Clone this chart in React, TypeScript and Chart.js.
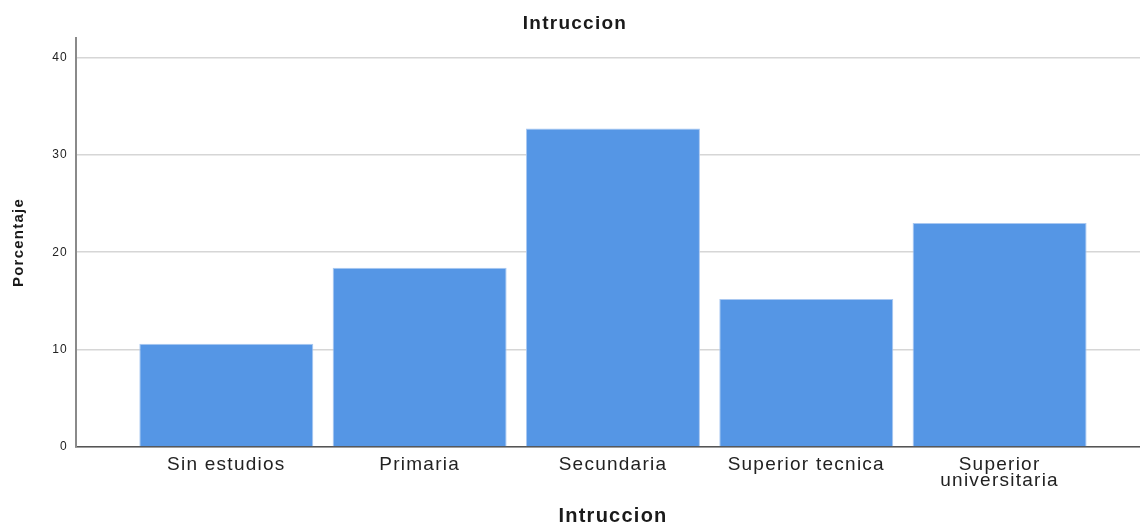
import React, { useEffect, useRef } from 'react';
import { Chart, registerables } from 'chart.js';

Chart.register(...registerables);

const categories: (string | string[])[] = [
  'Sin estudios',
  'Primaria',
  'Secundaria',
  'Superior tecnica',
  ['Superior', 'universitaria'],
];
const percentages = [10.6, 18.4, 32.7, 15.2, 23.0];
const yTickValues = [0, 10, 20, 30, 40];

const FONT = '"Liberation Sans", Arial, sans-serif';

const spacingPlugin = {
  id: 'letterSpacing',
  beforeLayout(chart: any) {
    chart.ctx.letterSpacing = '1.25px';
  },
  beforeDraw(chart: any) {
    chart.ctx.letterSpacing = '1.25px';
  },
};

export default function App() {
  const ref = useRef<HTMLCanvasElement | null>(null);

  useEffect(() => {
    if (!ref.current) return;
    const ctx = ref.current.getContext('2d') as any;
    if (ctx) ctx.letterSpacing = '1.25px';
    const chart = new Chart(ref.current, {
      type: 'bar',
      data: {
        datasets: [
          {
            label: 'Porcentaje',
            data: percentages.map((v, i) => ({ x: i, y: v })),
            backgroundColor: '#5596e5',
            borderColor: '#a9c8f1',
            borderWidth: 1,
            barPercentage: 0.9,
            categoryPercentage: 1,
          },
        ],
      },
      plugins: [spacingPlugin],
      options: {
        animation: false,
        responsive: false,
        devicePixelRatio: 1,
        layout: { padding: 0 },
        font: { family: FONT },
        plugins: {
          legend: { display: false },
          tooltip: { enabled: false },
          title: {
            display: true,
            text: 'Intruccion',
            color: '#1a1a1a',
            font: { family: FONT, size: 19, weight: 'bold', lineHeight: 1.2 },
            padding: { top: 12.5, bottom: 2.7 },
          },
        },
        scales: {
          x: {
            type: 'linear',
            offset: false,
            min: -0.7775,
            max: 4.778,
            afterBuildTicks: (axis: any) => {
              axis.ticks = categories.map((_, i) => ({ value: i }));
            },
            afterFit: (scale: any) => {
              scale.height = 77;
            },
            grid: { display: false, drawTicks: false, offset: false },
            border: { display: true, color: '#555555', width: 1.5 },
            ticks: {
              autoSkip: false,
              maxRotation: 0,
              minRotation: 0,
              padding: 10,
              color: '#222222',
              font: { family: FONT, size: 19, lineHeight: 0.82 },
              callback: (value: any) => categories[Number(value)] as any,
            },
            title: {
              display: true,
              text: 'Intruccion',
              color: '#1a1a1a',
              font: { family: FONT, size: 20, weight: 'bold', lineHeight: 0.8 },
              padding: { top: 0, bottom: 0 },
            },
          },
          y: {
            type: 'linear',
            min: 0,
            max: 42,
            afterBuildTicks: (axis: any) => {
              axis.ticks = yTickValues.map((v) => ({ value: v }));
            },
            afterFit: (scale: any) => {
              scale.width = 76;
            },
            grid: { color: '#d6d6d6', lineWidth: 1.5, drawTicks: false },
            border: { display: true, color: '#8a8a8a', width: 2 },
            ticks: {
              padding: 8,
              color: '#222222',
              font: { family: FONT, size: 12 },
            },
            title: {
              display: true,
              text: 'Porcentaje',
              color: '#1a1a1a',
              font: { family: FONT, size: 15, weight: 'bold', lineHeight: 1.2 },
              padding: { top: 10, bottom: 0 },
            },
          },
        },
      } as any,
    });
    return () => chart.destroy();
  }, []);

  return (
    <div style={{ position: 'fixed', left: 0, top: 0, width: 1150, height: 524, background: '#ffffff' }}>
      <canvas ref={ref} width={1150} height={524} style={{ display: 'block' }} />
    </div>
  );
}
